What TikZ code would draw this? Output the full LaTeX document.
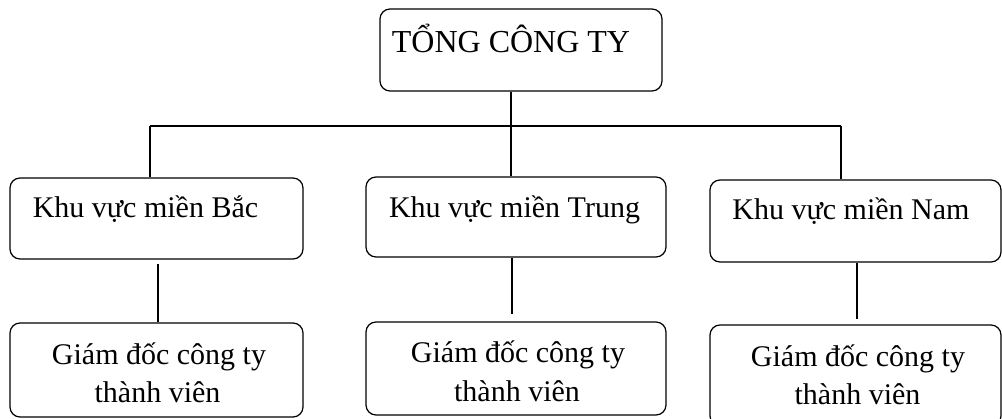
\documentclass[tikz,border=0pt]{standalone}
\usepackage{fontspec}
\setmainfont{Liberation Serif}
\begin{document}
\begin{tikzpicture}[x=1pt,y=-1pt,
  box/.style={draw, line width=1.2pt, rounded corners=10pt, inner sep=0pt},
  lbl/.style={anchor=base, inner sep=0pt, font=\fontsize{30}{38}\selectfont},
  toplbl/.style={anchor=base, inner sep=0pt, font=\fontsize{32}{38}\selectfont},
  link/.style={line width=1.2pt}]
\useasboundingbox (0,0) rectangle (1002,419);

% boxes
\node[box, minimum width=282pt, minimum height=82pt] (top) at (521,50) {};
\node[box, minimum width=293pt, minimum height=81pt] (b1) at (156.5,218.5) {};
\node[box, minimum width=300pt, minimum height=80pt] (b2) at (516,217) {};
\node[box, minimum width=291pt, minimum height=82pt] (b3) at (855.5,221) {};
\node[box, minimum width=293pt, minimum height=94pt] (g1) at (156.5,370) {};
\node[box, minimum width=300pt, minimum height=93pt] (g2) at (516,368.5) {};
\node[box, minimum width=291pt, minimum height=101pt] (g3) at (855.5,375.5) {};

% texts
\node[toplbl] (ttop) at (511,53) {TỔNG CÔNG TY};
\node[lbl] (t1) at (145.5,218) {Khu vực miền Bắc};
\node[lbl] (t2) at (514.5,218) {Khu vực miền Trung};
\node[lbl] (t3) at (851,220) {Khu vực miền Nam};
\node[lbl] (g1a) at (159,365) {Giám đốc công ty};
\node[lbl] (g1b) at (157.5,403) {thành viên};
\node[lbl] (g2a) at (518,363) {Giám đốc công ty};
\node[lbl] (g2b) at (517,402) {thành viên};
\node[lbl] (g3a) at (858,367) {Giám đốc công ty};
\node[lbl] (g3b) at (857.5,405) {thành viên};

% junction points
\coordinate (jL) at (150,126);
\coordinate (jM) at (511,126);
\coordinate (jR) at (841,126);
\coordinate (xL) at (158,0);
\coordinate (xM) at (512,0);
\coordinate (xR) at (857,0);

% connectors
\draw[link] (top.south -| jM) -- (b2.north -| jM);
\draw[link] (jL) -- (jR);
\draw[link] (jL) -- (b1.north -| jL);
\draw[link] (jR) -- (b3.north -| jR);
\draw[link, shorten <=4pt] (b1.south -| xL) -- (g1.north -| xL);
\draw[link, shorten >=7pt] (b2.south -| xM) -- (g2.north -| xM);
\draw[link, shorten >=5pt] (b3.south -| xR) -- (g3.north -| xR);
\end{tikzpicture}
\end{document}
